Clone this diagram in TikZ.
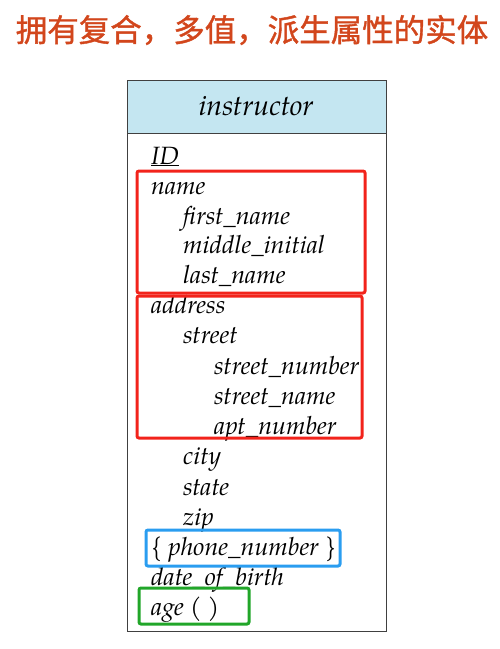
\documentclass[tikz,border=0pt]{standalone}
\usepackage{fontspec}
\newfontfamily\cjk[FakeBold=1.2]{Noto Sans CJK SC}
\newfontfamily\pag[Extension=.otf, UprightFont=*-regular, ItalicFont=*-italic]{texgyrepagella}
\definecolor{titlec}{HTML}{D2461C}
\definecolor{headfill}{HTML}{C4E6F1}
\definecolor{boxred}{HTML}{F2231B}
\definecolor{boxblue}{HTML}{2A9DF0}
\definecolor{boxgreen}{HTML}{21A629}
\tikzset{
  attr/.style={anchor=base west, inner sep=0pt, font=\pag\fontsize{25}{28}\selectfont\itshape},
  hl/.style={line width=3pt, rounded corners=2pt},
}
\begin{document}
\begin{tikzpicture}[x=1pt,y=-1pt]
\useasboundingbox (0,0) rectangle (500,649);
\node (title) at (252,30) {\cjk\fontsize{31.5}{34}\selectfont\color{titlec}拥有复合，多值，派生属性的实体};
\path[draw=black!75, line width=1pt, fill=headfill] (127,80) rectangle (386,133);
\node[draw=black!75, line width=1pt, minimum width=259pt, minimum height=498pt, anchor=north west] (body) at (127,133) {};
\node[anchor=base, inner sep=0pt, font=\pag\fontsize{28.5}{32}\selectfont\itshape] (head) at (256,115) {instructor};
\node[attr] (id) at (151,164) {\underline{ID}};
\node[attr] (name) at (151,194) {name};
\node[attr] (fn) at (183,224) {first\_name};
\node[attr] (mi) at (183,253) {middle\_initial};
\node[attr] (ln) at (183,283) {last\_name};
\node[attr] (addr) at (151,313) {address};
\node[attr] (street) at (183,343) {street};
\node[attr] (snum) at (214,374) {street\_number};
\node[attr] (sname) at (214,404) {street\_name};
\node[attr] (apt) at (214,434) {apt\_number};
\node[attr] (city) at (183,464) {city};
\node[attr] (state) at (183,495) {state};
\node[attr] (zip) at (183,525) {zip};
\node[attr] (phone) at (151,555) {\{ phone\_number \}};
\node[attr] (dob) at (151,585) {date\_of\_birth};
\node[attr] (age) at (151,615) {age ( )};
\draw[hl, boxred] (137,171) rectangle (365,293);
\draw[hl, boxred] (137,296) rectangle (362,438);
\draw[hl, boxblue] (146,530) rectangle (340,566);
\draw[hl, boxgreen] (139,588) rectangle (249,624);
\end{tikzpicture}
\end{document}
